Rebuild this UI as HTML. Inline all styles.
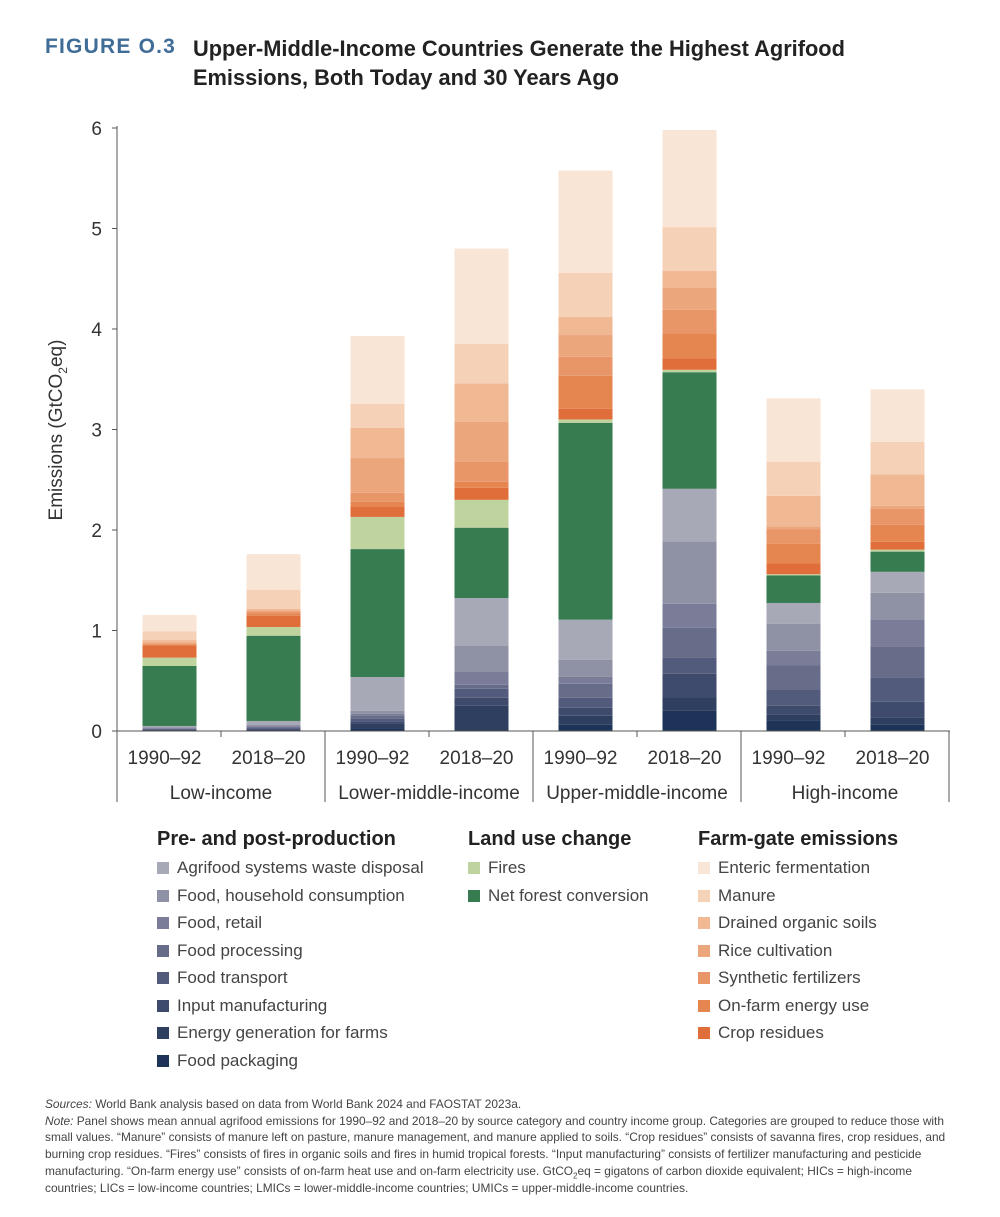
<!DOCTYPE html>
<html><head><meta charset="utf-8"><style>
body{margin:0;background:#fff;font-family:"Liberation Sans",sans-serif;}
#wrap{position:relative;width:1000px;height:1217px;overflow:hidden;background:#fff}
.t{position:absolute;white-space:nowrap}
.leg{position:absolute;font-size:17px;color:#444;white-space:nowrap}
.leg i{display:inline-block;width:12px;height:12px;margin-right:8px;vertical-align:-1px}
.lh{position:absolute;font-size:20px;font-weight:bold;color:#222}
sub{line-height:0}
</style></head><body>
<div id="wrap">
<div class="t" style="left:45px;top:35px;font-size:21px;font-weight:bold;color:#3f6d97;letter-spacing:1.2px">FIGURE O.3</div>
<div class="t" style="left:193px;top:34px;font-size:21.8px;font-weight:bold;color:#222;line-height:29px">Upper-Middle-Income Countries Generate the Highest Agrifood<br>Emissions, Both Today and 30 Years Ago</div>
<svg id="chart" width="1000" height="830" style="position:absolute;left:0;top:0"></svg>
<div id="legend"></div>
<div class="t" style="left:45px;top:1096px;width:912px;white-space:normal;font-size:11.9px;line-height:16.7px;color:#444"><i>Sources:</i> World Bank analysis based on data from World Bank 2024 and FAOSTAT 2023a.<br><i>Note:</i> Panel shows mean annual agrifood emissions for 1990–92 and 2018–20 by source category and country income group. Categories are grouped to reduce those with small values. “Manure” consists of manure left on pasture, manure management, and manure applied to soils. “Crop residues” consists of savanna fires, crop residues, and burning crop residues. “Fires” consists of fires in organic soils and fires in humid tropical forests. “Input manufacturing” consists of fertilizer manufacturing and pesticide manufacturing. “On-farm energy use” consists of on-farm heat use and on-farm electricity use. GtCO<sub style="font-size:8px">2</sub>eq = gigatons of carbon dioxide equivalent; HICs = high-income countries; LICs = low-income countries; LMICs = lower-middle-income countries; UMICs = upper-middle-income countries.</div>
</div>
<script>
const periods=["1990–92","2018–20","1990–92","2018–20","1990–92","2018–20","1990–92","2018–20"];
const groups=["Low-income","Lower-middle-income","Upper-middle-income","High-income"];
const yTicks=[0,1,2,3,4,5,6];
const packaging=[0,0.005,0.02,0.01,0.063,0.2,0.1,0.063];
const energyGen=[0.005,0.005,0.05,0.24,0.089,0.133,0.06,0.07];
const inputMfg=[0.005,0.005,0.02,0.08,0.08,0.236,0.09,0.157];
const transport=[0.005,0.01,0.03,0.09,0.098,0.158,0.158,0.244];
const processing=[0.005,0.01,0.03,0.04,0.14,0.299,0.248,0.306];
const retail=[0.005,0.01,0.02,0.127,0.068,0.24,0.141,0.272];
const household=[0.01,0.015,0.03,0.259,0.169,0.622,0.268,0.264];
const waste=[0.015,0.04,0.337,0.477,0.401,0.522,0.209,0.208];
const forest=[0.597,0.848,1.273,0.70,1.959,1.16,0.275,0.201];
const fires=[0.083,0.087,0.32,0.277,0.033,0.024,0.011,0.02];
const cropRes=[0.12,0.112,0.106,0.12,0.105,0.116,0.107,0.078];
const onFarm=[0.012,0.023,0.044,0.06,0.33,0.246,0.197,0.169];
const synth=[0.01,0.02,0.09,0.197,0.188,0.236,0.141,0.158];
const rice=[0.01,0.01,0.346,0.398,0.217,0.22,0.032,0.03];
const drained=[0.023,0.017,0.302,0.385,0.18,0.168,0.303,0.315];
const manure=[0.085,0.186,0.236,0.394,0.44,0.434,0.34,0.322];
const enteric=[0.164,0.357,0.676,0.946,1.016,0.966,0.63,0.523];

const series=[
["Food packaging",packaging,"#1d3358","food-packaging"],
["Energy generation for farms",energyGen,"#2e3f60","energy-generation"],
["Input manufacturing",inputMfg,"#3f4b6d","input-manufacturing"],
["Food transport",transport,"#525b7b","food-transport"],
["Food processing",processing,"#676c89","food-processing"],
["Food, retail",retail,"#7b7d98","food-retail"],
["Food, household consumption",household,"#8f92a5","food-household"],
["Agrifood systems waste disposal",waste,"#a7a9b7","waste-disposal"],
["Net forest conversion",forest,"#377b50","net-forest-conversion"],
["Fires",fires,"#bfd39e","fires"],
["Crop residues",cropRes,"#e06e3a","crop-residues"],
["On-farm energy use",onFarm,"#e5854f","on-farm-energy"],
["Synthetic fertilizers",synth,"#e89668","synthetic-fertilizers"],
["Rice cultivation",rice,"#eba67c","rice-cultivation"],
["Drained organic soils",drained,"#f1b894","drained-organic-soils"],
["Manure",manure,"#f5d1b7","manure"],
["Enteric fermentation",enteric,"#f9e5d6","enteric-fermentation"]];

const NS="http://www.w3.org/2000/svg";
const svg=document.getElementById('chart');
const y0=731,pxPer=100.5;
const yS=v=>y0-v*pxPer;
const xC=i=>169.5+i*104;
const bw=54;
function mk(tag,attrs){const e=document.createElementNS(NS,tag);for(const k in attrs)e.setAttribute(k,attrs[k]);svg.appendChild(e);return e;}
for(let i=0;i<periods.length;i++){
  let cum=0;
  series.forEach(s=>{
    const v=s[1][i];
    const r=mk('rect',{x:xC(i)-bw/2,y:yS(cum+v),width:bw,height:v*pxPer,fill:s[2]});
    
    
    cum+=v;
  });
}
let a=mk('line',{x1:117,y1:126,x2:117,y2:731,stroke:'#555','stroke-width':1});

yTicks.forEach(t=>{
  const l=mk('line',{x1:112,y1:yS(t),x2:117,y2:yS(t),stroke:'#555'});
  
  const tx=mk('text',{x:102,y:yS(t)+7,'text-anchor':'end','font-size':19,fill:'#333','font-family':'Liberation Sans'});
  tx.textContent=t;
  
});
const yt=mk('text',{transform:'translate(62,430) rotate(-90)','text-anchor':'middle','font-size':19,fill:'#333','font-family':'Liberation Sans'});
yt.innerHTML='Emissions (GtCO<tspan font-size="12" dy="5">2</tspan><tspan dy="-5">eq)</tspan>';

const xa=mk('line',{x1:117,y1:731,x2:950,y2:731,stroke:'#555'});

for(let g=0;g<=groups.length;g++){
  const x=117+g*208;
  const l=mk('line',{x1:x,y1:731,x2:x,y2:802,stroke:'#555'});
  
}
for(let g=0;g<groups.length;g++){
  const x=117+g*208+104;
  const l=mk('line',{x1:x,y1:731,x2:x,y2:737,stroke:'#555'});
  
  const t=mk('text',{x:x,y:799,'text-anchor':'middle','font-size':19,fill:'#333','font-family':'Liberation Sans'});
  t.textContent=groups[g];
  
}
periods.forEach((p,i)=>{
  const t=mk('text',{x:xC(i)-5,y:764,'text-anchor':'middle','font-size':19,fill:'#333','font-family':'Liberation Sans'});
  t.textContent=p;
  
});
const W=document.getElementById('wrap');
const cols=[[157,"Pre- and post-production",[7,6,5,4,3,2,1,0]],[468,"Land use change",[9,8]],[698,"Farm-gate emissions",[16,15,14,13,12,11,10]]];
cols.forEach(c=>{
  const h=document.createElement('div');h.className='lh';h.style.left=c[0]+'px';h.style.top='828px';h.textContent=c[1];
  
  
  W.appendChild(h);
  c[2].forEach((si,k)=>{
    const d=document.createElement('div');d.className='leg';d.style.left=c[0]+'px';d.style.top=(858+k*27.5)+'px';
    d.innerHTML='<i style="background:'+series[si][2]+'"></i>'+series[si][0];
    
    
    W.appendChild(d);
  });
});
</script>
</body></html>
